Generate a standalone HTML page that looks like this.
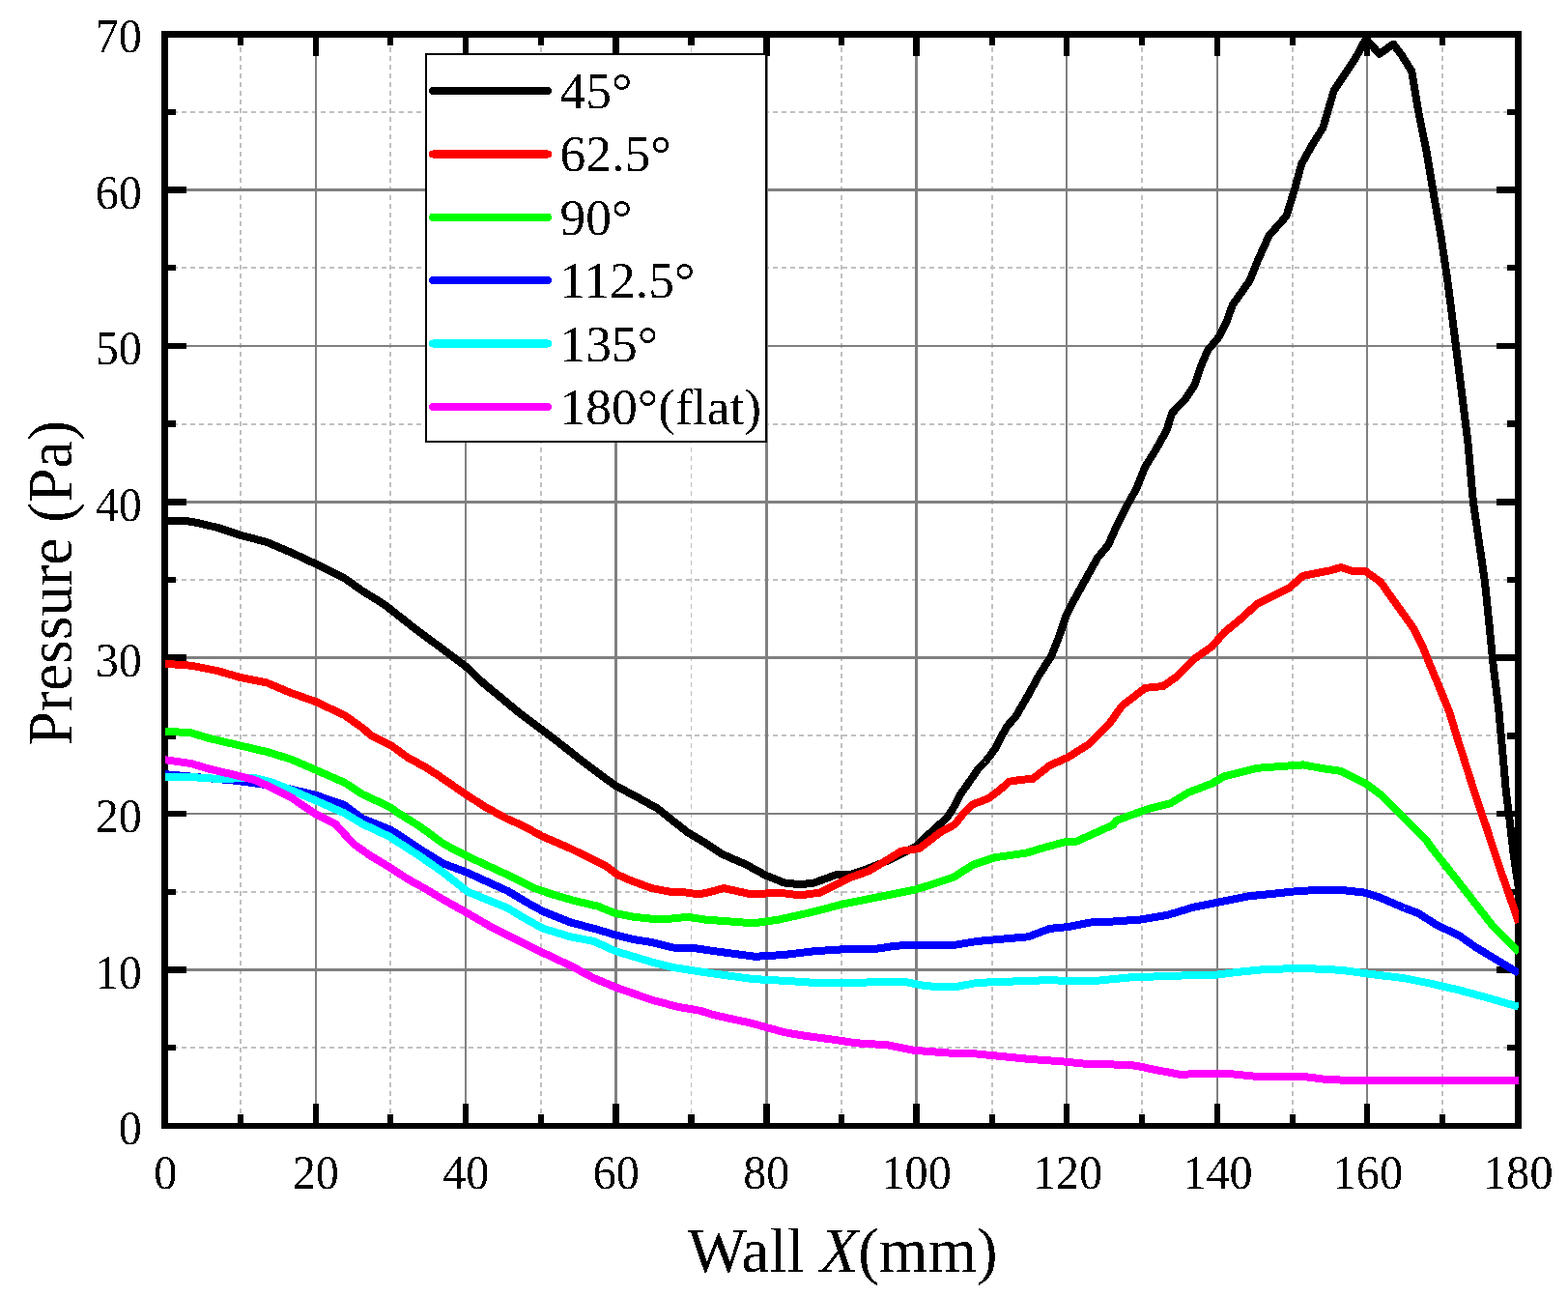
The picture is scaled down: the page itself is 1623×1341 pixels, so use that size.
<!DOCTYPE html><html><head><meta charset="utf-8"><title>Pressure vs Wall X</title><style>
html,body{margin:0;padding:0;background:#fff;width:1623px;height:1341px;overflow:hidden}
svg{display:block}
text{font-family:"Liberation Serif","Times New Roman",serif;fill:#000}
</style></head><body>
<svg width="1623" height="1341" viewBox="0 0 1623 1341">
<rect width="1623" height="1341" fill="#fff"/>
<g shape-rendering="crispEdges"><line x1="249" y1="40" x2="249" y2="1162" stroke="#c0c0c0" stroke-width="2" stroke-dasharray="5 4"/><line x1="404" y1="40" x2="404" y2="1162" stroke="#c0c0c0" stroke-width="2" stroke-dasharray="5 4"/><line x1="560" y1="40" x2="560" y2="1162" stroke="#c0c0c0" stroke-width="2" stroke-dasharray="5 4"/><line x1="715.5" y1="40" x2="715.5" y2="1162" stroke="#c0c0c0" stroke-width="1" stroke-dasharray="5 4"/><line x1="871" y1="40" x2="871" y2="1162" stroke="#c0c0c0" stroke-width="2" stroke-dasharray="5 4"/><line x1="1027" y1="40" x2="1027" y2="1162" stroke="#c0c0c0" stroke-width="2" stroke-dasharray="5 4"/><line x1="1182" y1="40" x2="1182" y2="1162" stroke="#c0c0c0" stroke-width="2" stroke-dasharray="5 4"/><line x1="1338" y1="40" x2="1338" y2="1162" stroke="#c0c0c0" stroke-width="2" stroke-dasharray="5 4"/><line x1="1493" y1="40" x2="1493" y2="1162" stroke="#c0c0c0" stroke-width="2" stroke-dasharray="5 4"/><line x1="179" y1="1084" x2="1568" y2="1084" stroke="#c0c0c0" stroke-width="2" stroke-dasharray="5 4"/><line x1="179" y1="923" x2="1568" y2="923" stroke="#c0c0c0" stroke-width="2" stroke-dasharray="5 4"/><line x1="179" y1="761" x2="1568" y2="761" stroke="#c0c0c0" stroke-width="2" stroke-dasharray="5 4"/><line x1="179" y1="600" x2="1568" y2="600" stroke="#c0c0c0" stroke-width="2" stroke-dasharray="5 4"/><line x1="179" y1="439" x2="1568" y2="439" stroke="#c0c0c0" stroke-width="2" stroke-dasharray="5 4"/><line x1="179" y1="277" x2="1568" y2="277" stroke="#c0c0c0" stroke-width="2" stroke-dasharray="5 4"/><line x1="179" y1="116" x2="1568" y2="116" stroke="#c0c0c0" stroke-width="2" stroke-dasharray="5 4"/><rect x="326" y="39" width="2" height="1123" fill="#808080"/><rect x="481" y="39" width="2" height="1123" fill="#808080"/><rect x="636" y="39" width="3" height="1123" fill="#808080"/><rect x="792" y="39" width="3" height="1123" fill="#808080"/><rect x="947" y="39" width="3" height="1123" fill="#808080"/><rect x="1103" y="39" width="2" height="1123" fill="#808080"/><rect x="1259" y="39" width="2" height="1123" fill="#808080"/><rect x="1414" y="39" width="2" height="1123" fill="#808080"/><rect x="174" y="1002" width="1394" height="3" fill="#808080"/><rect x="174" y="841" width="1394" height="2" fill="#808080"/><rect x="174" y="679" width="1394" height="3" fill="#808080"/><rect x="174" y="518" width="1394" height="3" fill="#808080"/><rect x="174" y="357" width="1394" height="2" fill="#808080"/><rect x="174" y="195" width="1394" height="3" fill="#808080"/></g>
<g shape-rendering="crispEdges" fill="#000"><rect x="246" y="1153" width="6" height="12"/><rect x="246" y="35" width="6" height="12"/><rect x="324" y="1142" width="6" height="23"/><rect x="324" y="35" width="6" height="23"/><rect x="401" y="1153" width="6" height="12"/><rect x="401" y="35" width="6" height="12"/><rect x="479" y="1142" width="6" height="23"/><rect x="479" y="35" width="6" height="23"/><rect x="557" y="1153" width="6" height="12"/><rect x="557" y="35" width="6" height="12"/><rect x="634" y="1142" width="7" height="23"/><rect x="634" y="35" width="7" height="23"/><rect x="712" y="1153" width="7" height="12"/><rect x="712" y="35" width="7" height="12"/><rect x="790" y="1142" width="7" height="23"/><rect x="790" y="35" width="7" height="23"/><rect x="868" y="1153" width="6" height="12"/><rect x="868" y="35" width="6" height="12"/><rect x="945" y="1142" width="7" height="23"/><rect x="945" y="35" width="7" height="23"/><rect x="1024" y="1153" width="6" height="12"/><rect x="1024" y="35" width="6" height="12"/><rect x="1101" y="1142" width="6" height="23"/><rect x="1101" y="35" width="6" height="23"/><rect x="1179" y="1153" width="6" height="12"/><rect x="1179" y="35" width="6" height="12"/><rect x="1257" y="1142" width="6" height="23"/><rect x="1257" y="35" width="6" height="23"/><rect x="1335" y="1153" width="6" height="12"/><rect x="1335" y="35" width="6" height="12"/><rect x="1412" y="1142" width="6" height="23"/><rect x="1412" y="35" width="6" height="23"/><rect x="1490" y="1153" width="6" height="12"/><rect x="1490" y="35" width="6" height="12"/><rect x="170" y="1081" width="12" height="6"/><rect x="1560" y="1081" width="12" height="6"/><rect x="170" y="1000" width="23" height="7"/><rect x="1549" y="1000" width="23" height="7"/><rect x="170" y="920" width="12" height="6"/><rect x="1560" y="920" width="12" height="6"/><rect x="170" y="839" width="23" height="6"/><rect x="1549" y="839" width="23" height="6"/><rect x="170" y="758" width="12" height="7"/><rect x="1560" y="758" width="12" height="7"/><rect x="170" y="677" width="23" height="7"/><rect x="1549" y="677" width="23" height="7"/><rect x="170" y="597" width="12" height="6"/><rect x="1560" y="597" width="12" height="6"/><rect x="170" y="516" width="23" height="7"/><rect x="1549" y="516" width="23" height="7"/><rect x="170" y="435" width="12" height="7"/><rect x="1560" y="435" width="12" height="7"/><rect x="170" y="355" width="23" height="6"/><rect x="1549" y="355" width="23" height="6"/><rect x="170" y="274" width="12" height="6"/><rect x="1560" y="274" width="12" height="6"/><rect x="170" y="193" width="23" height="7"/><rect x="1549" y="193" width="23" height="7"/><rect x="170" y="113" width="12" height="6"/><rect x="1560" y="113" width="12" height="6"/></g>
<g shape-rendering="crispEdges" fill="#000"><rect x="167" y="32" width="1408" height="7"/><rect x="167" y="1162" width="1408" height="6"/><rect x="167" y="32" width="7" height="1136"/><rect x="1568" y="32" width="7" height="1136"/></g>
<defs><clipPath id="pc"><rect x="170.9" y="32" width="1401.1" height="1136"/></clipPath><filter id="bin" x="0" y="0" width="100%" height="100%" filterUnits="userSpaceOnUse" color-interpolation-filters="sRGB"><feComponentTransfer><feFuncA type="discrete" tableValues="0 1"/></feComponentTransfer></filter></defs>
<g clip-path="url(#pc)" fill="none" stroke-width="8" stroke-linejoin="round" stroke-linecap="butt" shape-rendering="crispEdges">
<polyline points="170.9,538.6 198.0,539.6 225.9,546.1 248.3,553.6 276.3,561.0 300.5,571.3 326.6,583.4 356.5,598.3 375.1,611.4 397.5,625.3 427.3,648.7 449.7,665.4 482.4,689.8 501.0,707.5 521.5,724.3 538.3,738.3 557.0,752.3 579.3,769.1 601.7,786.8 624.1,803.6 637.1,812.9 661.4,825.9 680.0,836.2 702.4,853.9 711.7,861.2 730.4,872.4 747.1,883.6 772.4,894.7 792.9,905.9 811.5,913.4 828.3,915.3 843.2,913.4 865.6,905.0 880.5,905.0 899.2,898.5 917.8,891.0 936.5,881.7 947.6,876.1 967.7,857.3 979.7,846.6 986.3,836.9 994.2,822.0 1004.6,807.1 1012.4,795.9 1019.5,788.5 1025.5,781.0 1030.7,773.6 1036.3,762.4 1042.6,751.2 1051.2,741.7 1064.2,719.3 1075.4,698.8 1088.5,678.3 1095.9,659.7 1103.4,637.3 1110.9,622.4 1135.9,577.4 1147.1,564.0 1156.1,543.8 1165.0,526.0 1176.2,505.8 1185.1,483.4 1196.3,465.5 1207.5,445.4 1213.1,427.5 1227.7,411.9 1236.6,398.4 1243.3,378.3 1250.0,362.6 1261.2,349.2 1270.2,331.3 1275.7,315.7 1293.4,290.7 1302.4,268.3 1313.6,243.7 1331.5,223.6 1340.4,194.5 1347.1,169.9 1358.3,149.8 1369.5,131.9 1380.7,93.8 1394.1,73.7 1403.0,60.3 1412.0,43.5 1414.2,40.6 1427.7,55.8 1442.2,45.7 1450.0,55.8 1461.2,73.7 1467.9,114.0 1476.9,158.7 1483.6,199.0 1491.4,243.7 1498.1,288.5 1507.0,358.2 1513.7,411.9 1519.3,456.6 1524.9,519.2 1537.1,603.3 1541.5,646.5 1545.8,689.8 1551.2,733.0 1559.0,820.0 1562.4,847.0 1566.5,882.7 1572.0,920.4" stroke="#000000"/>
<polyline points="170.9,686.8 198.0,688.7 225.9,694.3 248.3,700.9 276.3,706.5 300.5,716.7 326.6,726.0 356.5,740.0 375.1,753.1 384.4,761.2 404.9,771.4 421.7,783.6 440.4,793.8 453.4,802.2 482.4,822.2 502.9,835.3 523.4,846.5 542.0,854.8 560.7,865.1 590.5,878.0 609.2,887.3 627.8,896.6 639.0,905.0 653.9,911.5 674.4,919.0 693.1,922.7 711.7,923.6 722.9,925.5 735.9,922.7 749.0,919.0 778.0,925.5 805.9,923.6 828.3,926.4 848.8,923.6 865.6,915.3 880.5,907.8 899.2,901.3 917.8,890.1 932.7,880.8 951.4,878.0 973.6,861.1 988.3,853.0 999.1,839.6 1007.1,832.2 1023.2,826.2 1034.0,818.1 1044.7,808.7 1058.1,806.7 1068.9,806.0 1086.6,792.0 1105.3,783.7 1127.6,769.7 1148.1,749.2 1161.2,730.5 1185.4,711.9 1204.1,710.0 1217.1,700.7 1235.8,682.0 1254.4,669.0 1267.5,654.1 1282.4,642.0 1301.0,625.2 1319.7,615.8 1333.8,608.7 1349.0,595.7 1366.3,592.4 1377.1,590.3 1387.9,587.0 1400.9,591.4 1413.8,591.4 1429.0,602.2 1442.0,620.6 1452.8,635.7 1463.6,650.8 1472.2,668.1 1480.9,689.8 1491.7,715.7 1500.4,737.4 1509.0,765.5 1526.3,820.0 1533.4,840.9 1540.4,861.8 1547.2,882.7 1554.3,903.6 1561.6,924.4 1567.0,940.1 1572.0,954.9" stroke="#ff0000"/>
<polyline points="170.9,756.5 198.0,758.4 216.6,764.0 248.3,771.4 276.3,778.0 300.5,785.4 326.6,796.6 356.5,809.7 375.1,821.8 403.1,834.8 412.4,841.4 434.8,855.3 459.0,873.1 482.4,885.4 506.6,896.6 530.9,907.8 553.2,919.0 571.9,925.5 594.2,932.0 618.5,937.6 637.1,945.1 655.8,948.8 674.4,950.7 693.1,950.7 711.7,948.8 730.4,951.6 779.8,955.3 805.9,951.6 843.2,943.2 871.2,935.8 899.2,930.2 927.1,924.6 945.8,920.9 964.4,915.3 986.8,907.8 1007.3,894.7 1029.7,887.3 1062.4,882.6 1077.3,878.0 1101.5,871.4 1114.6,870.5 1133.2,862.1 1151.9,853.7 1155.6,848.9 1189.2,836.8 1211.5,831.2 1230.2,820.0 1254.4,810.7 1267.5,803.2 1301.0,794.8 1349.0,791.4 1366.3,794.7 1387.9,797.9 1413.8,810.9 1431.1,823.9 1457.2,850.0 1475.9,868.6 1481.3,876.6 1506.8,908.9 1544.4,957.2 1546.7,960.0 1572.0,985.3" stroke="#00ff00"/>
<polyline points="170.9,801.2 244.6,807.8 291.2,814.3 326.6,822.7 356.5,833.0 375.1,847.0 403.1,858.1 412.4,863.7 434.8,878.7 459.0,893.6 484.2,903.1 506.6,913.4 525.3,921.8 543.9,933.0 562.5,943.2 590.5,954.4 618.5,961.9 637.1,967.5 655.8,972.1 674.4,974.9 696.8,980.5 721.0,981.4 739.7,984.2 781.7,989.8 811.5,988.0 843.2,984.2 871.2,982.4 902.9,982.4 927.1,978.7 947.6,977.7 988.7,977.7 1011.0,974.0 1064.2,969.3 1086.6,960.9 1105.3,959.1 1129.5,954.4 1151.9,953.5 1179.8,951.6 1207.8,947.0 1235.8,938.6 1263.7,933.0 1291.7,927.4 1319.7,924.6 1345.4,921.8 1384.5,920.5 1412.5,923.6 1427.4,928.3 1453.5,939.5 1468.4,945.1 1487.1,957.2 1509.5,967.5 1528.1,980.5 1546.7,991.7 1572.0,1006.9" stroke="#0000ff"/>
<polyline points="170.9,803.7 198.0,804.1 225.9,805.9 263.2,805.0 281.9,809.7 300.5,817.1 326.6,828.3 356.5,841.4 375.1,852.5 403.1,865.6 434.8,886.1 459.0,902.9 484.2,922.7 506.6,932.0 525.3,939.5 543.9,950.7 562.5,960.9 590.5,969.3 614.8,974.0 637.1,984.2 655.8,989.8 674.4,995.4 696.8,1001.0 721.0,1004.8 739.7,1007.6 779.8,1013.1 815.3,1015.0 843.2,1016.9 871.2,1016.9 936.5,1015.9 955.1,1019.7 973.7,1021.5 992.4,1020.6 1011.0,1016.9 1086.6,1014.1 1105.3,1015.0 1133.2,1015.0 1170.5,1011.3 1226.5,1009.4 1260.0,1008.5 1282.4,1005.7 1310.4,1002.9 1351.0,1002.0 1388.3,1003.8 1416.2,1007.6 1453.5,1012.2 1481.5,1017.8 1509.5,1024.3 1537.4,1031.8 1572.0,1041.7" stroke="#00ffff"/>
<polyline points="170.9,786.2 198.0,790.1 216.6,795.7 248.3,803.1 263.2,806.9 281.9,815.3 300.5,824.6 326.6,842.3 347.1,852.5 365.8,873.1 384.4,886.1 403.1,897.3 421.7,909.4 440.4,919.7 459.0,930.9 484.2,945.1 506.6,958.1 525.3,967.5 543.9,976.8 562.5,986.1 590.5,999.2 614.8,1012.2 637.1,1021.5 655.8,1028.1 674.4,1034.6 702.4,1042.0 724.8,1045.8 739.7,1050.4 778.0,1058.8 811.5,1068.1 833.9,1071.9 861.9,1075.6 886.1,1079.3 917.8,1081.2 945.8,1086.8 983.1,1089.6 1011.0,1090.5 1067.7,1096.1 1095.5,1098.0 1123.2,1100.7 1160.1,1101.7 1174.9,1102.6 1197.1,1107.2 1221.1,1111.8 1248.9,1110.9 1271.1,1110.9 1298.8,1113.7 1347.0,1113.7 1369.2,1116.5 1400.6,1118.3 1485.7,1118.3 1572.0,1118.3" stroke="#ff00ff"/>
</g>
<g filter="url(#bin)">
<text transform="translate(171.4,1229.5) scale(0.963,1)" font-size="50" text-anchor="middle">0</text><text transform="translate(326.8,1229.5) scale(0.963,1)" font-size="50" text-anchor="middle">20</text><text transform="translate(482.3,1229.5) scale(0.963,1)" font-size="50" text-anchor="middle">40</text><text transform="translate(637.7,1229.5) scale(0.963,1)" font-size="50" text-anchor="middle">60</text><text transform="translate(793.2,1229.5) scale(0.963,1)" font-size="50" text-anchor="middle">80</text><text transform="translate(948.6,1229.5) scale(0.963,1)" font-size="50" text-anchor="middle">100</text><text transform="translate(1105.0,1229.5) scale(0.963,1)" font-size="50" text-anchor="middle">120</text><text transform="translate(1260.5,1229.5) scale(0.963,1)" font-size="50" text-anchor="middle">140</text><text transform="translate(1415.9,1229.5) scale(0.963,1)" font-size="50" text-anchor="middle">160</text><text transform="translate(1571.4,1229.5) scale(0.963,1)" font-size="50" text-anchor="middle">180</text><text transform="translate(146.8,1184.0) scale(0.963,1)" font-size="50" text-anchor="end">0</text><text transform="translate(146.8,1022.6) scale(0.963,1)" font-size="50" text-anchor="end">10</text><text transform="translate(146.8,861.2) scale(0.963,1)" font-size="50" text-anchor="end">20</text><text transform="translate(146.8,699.9) scale(0.963,1)" font-size="50" text-anchor="end">30</text><text transform="translate(146.8,538.5) scale(0.963,1)" font-size="50" text-anchor="end">40</text><text transform="translate(146.8,377.1) scale(0.963,1)" font-size="50" text-anchor="end">50</text><text transform="translate(146.8,215.7) scale(0.963,1)" font-size="50" text-anchor="end">60</text><text transform="translate(146.8,54.3) scale(0.963,1)" font-size="50" text-anchor="end">70</text>
<text transform="translate(872,1315.5) scale(0.984,1)" font-size="66" text-anchor="middle">Wall <tspan font-style="italic">X</tspan>(mm)</text>
<text transform="translate(74,603.2) rotate(-90) scale(0.975,1)" font-size="65" text-anchor="middle">Pressure (Pa)</text>
</g>
<rect x="441" y="56" width="352" height="401" fill="#fff" stroke="#000" stroke-width="2" shape-rendering="crispEdges"/>
<g filter="url(#bin)">
<line x1="448" y1="94.0" x2="567" y2="94.0" stroke="#000000" stroke-width="8" stroke-linecap="round"/>
<line x1="448" y1="159.4" x2="567" y2="159.4" stroke="#ff0000" stroke-width="8" stroke-linecap="round"/>
<line x1="448" y1="224.8" x2="567" y2="224.8" stroke="#00ff00" stroke-width="8" stroke-linecap="round"/>
<line x1="448" y1="290.1" x2="567" y2="290.1" stroke="#0000ff" stroke-width="8" stroke-linecap="round"/>
<line x1="448" y1="355.5" x2="567" y2="355.5" stroke="#00ffff" stroke-width="8" stroke-linecap="round"/>
<line x1="448" y1="420.9" x2="567" y2="420.9" stroke="#ff00ff" stroke-width="8" stroke-linecap="round"/>
<text x="579.5" y="112.0" font-size="53.5">45°</text>
<text x="579.5" y="177.4" font-size="53.5">62.5°</text>
<text x="579.5" y="242.8" font-size="53.5">90°</text>
<text x="579.5" y="308.1" font-size="53.5">112.5°</text>
<text x="579.5" y="373.5" font-size="53.5">135°</text>
<text x="579.5" y="438.9" font-size="53.5">180°(flat)</text>
</g>
</svg></body></html>
